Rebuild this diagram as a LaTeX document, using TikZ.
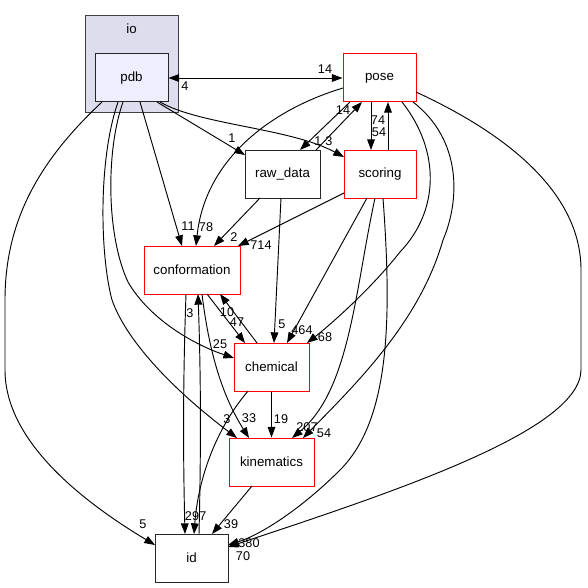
\documentclass[tikz,border=0pt]{standalone}
\usepackage{fontspec}
\setmainfont{Liberation Sans}
\usetikzlibrary{arrows.meta,calc}
\definecolor{clusterfill}{HTML}{DDDDEE}
\definecolor{pdbfill}{HTML}{EEEEFF}
\definecolor{redline}{HTML}{FF0000}
\begin{document}
\begin{tikzpicture}[x=0.75pt,y=-0.75pt,
  box/.style={draw, rectangle, minimum height=36pt, inner sep=0pt, line width=0.75pt, font=\fontsize{10}{12}\selectfont},
  redbox/.style={box, draw=redline},
  blackbox/.style={box, draw=black!85},
  dep/.style={draw=black, line width=0.7pt, -{Triangle[length=8pt,width=5.8pt]}},
  bidep/.style={draw=black, line width=0.7pt, {Triangle[length=8pt,width=5.8pt]}-{Triangle[length=8pt,width=5.8pt]}},
  lbl/.style={font=\fontsize{9.5}{10}\selectfont, inner sep=0pt}]
\useasboundingbox (0,0) rectangle (587,588);
% cluster
\node[draw=black!75, fill=clusterfill, line width=0.75pt, minimum width=69.75pt, minimum height=72.75pt, inner sep=0pt] (io) at (131.5,64.5) {};
\node[font=\fontsize{10}{12}\selectfont, inner sep=0pt] (iolbl) at (131.5,29) {io};
% nodes
\node[blackbox, fill=pdbfill, minimum width=54.75pt] (pdb) at (131.5,78) {pdb};
\node[redbox, minimum width=54.75pt] (pose) at (379.5,78) {pose};
\node[blackbox, minimum width=56.25pt] (raw) at (282.5,174) {raw\_data};
\node[redbox, minimum width=54pt] (scoring) at (380,174) {scoring};
\node[redbox, minimum width=72pt] (conf) at (192,270) {conformation};
\node[redbox, minimum width=56.25pt] (chem) at (271.5,367) {chemical};
\node[redbox, minimum width=63.75pt] (kin) at (271.5,462) {kinematics};
\node[blackbox, minimum width=54.75pt] (id) at (191.5,558) {id};
% edges
\draw[bidep] (pdb.east) -- (pose.west);
\draw[dep] ($(pdb)+(25.5,24)$) -- ($(raw)+(-37.5,-19)$);
\draw[dep] ($(pdb)+(28.5,24)$) .. controls (200,125) and (290,128) .. ($(scoring)+(-36,-17)$);
\draw[dep] ($(pdb)+(8.5,24)$) -- ($(conf)+(-10,-24)$);
\draw[dep] ($(pdb)+(-8.5,24)$) .. controls (106,150) and (106,235) .. (128,282) .. controls (150,320) and (195,345) .. ($(chem)+(-37.5,-9)$);
\draw[dep] ($(pdb)+(-13.5,24)$) .. controls (98,160) and (100,255) .. (112,300) .. controls (128,345) and (180,395) .. ($(kin)+(-34.5,-24)$);
\draw[dep] ($(pdb)+(-29.5,24)$) .. controls (40,160) and (5,220) .. (5,300) -- (5,370) .. controls (5,440) and (80,500) .. ($(id)+(-36.5,-13)$);
\draw[dep] ($(pose)+(-36.5,10)$) .. controls (270,110) and (205,160) .. ($(conf)+(4,-24)$);
\draw[dep] ($(pose)+(-29.5,24)$) -- ($(raw)+(17.5,-24)$);
\draw[dep] ($(raw)+(33.5,-24)$) -- ($(pose)+(-17.5,24)$);
\draw[dep] ($(pose)+(-8.5,24)$) -- ($(scoring)+(-9,-24)$);
\draw[dep] ($(scoring)+(8,-24)$) -- ($(pose)+(8.5,24)$);
\draw[dep] ($(pose)+(22.5,24)$) .. controls (440,150) and (440,210) .. (400,252) .. controls (370,290) and (330,325) .. ($(chem)+(35.5,-24)$);
\draw[dep] ($(pose)+(33.5,24)$) .. controls (462,140) and (460,200) .. (443,240) .. controls (420,320) and (360,380) .. ($(kin)+(31.5,-24)$);
\draw[dep] ($(pose)+(36.5,14)$) .. controls (520,140) and (581,200) .. (581,270) -- (581,370) .. controls (580,430) and (400,490) .. ($(id)+(36.5,-11)$);
\draw[dep] ($(scoring)+(-36,19)$) -- ($(conf)+(46,-24)$);
\draw[dep] ($(scoring)+(-13,24)$) -- ($(chem)+(15.5,-24)$);
\draw[dep] ($(scoring)+(-5,24)$) .. controls (355,290) and (350,390) .. ($(kin)+(20.5,-24)$);
\draw[dep] ($(scoring)+(3,24)$) .. controls (392,320) and (390,420) .. (340,470) .. controls (300,510) and (260,535) .. ($(id)+(36.5,-13)$);
\draw[dep] ($(raw)+(-22.5,24)$) -- ($(conf)+(22,-24)$);
\draw[dep] ($(raw)+(-1.5,24)$) -- ($(chem)+(2.5,-24)$);
\draw[dep] ($(conf)+(15,24)$) -- ($(chem)+(-26.5,-24)$);
\draw[dep] ($(chem)+(-14.5,-24)$) -- ($(conf)+(28,24)$);
\draw[dep] ($(conf)+(10,24)$) .. controls (210,360) and (225,400) .. ($(kin)+(-22.5,-24)$);
\draw[dep] ($(conf)+(-6,24)$) .. controls (183,380) and (183,450) .. ($(id)+(-6.5,-24)$);
\draw[dep] ($(id)+(7.5,-24)$) .. controls (201,450) and (201,380) .. ($(conf)+(6,24)$);
\draw[dep] ($(chem)+(-23.5,24)$) .. controls (215,430) and (198,480) .. ($(id)+(2.5,-24)$);
\draw[dep] (chem.south) -- (kin.north);
\draw[dep] ($(kin)+(-19.5,24)$) -- ($(id)+(20.5,-24)$);
% labels
\node[lbl] (l1) at (325,69) {14};
\node[lbl] (l2) at (185,86) {4};
\node[lbl] (l3) at (232,138) {1};
\node[lbl] (l4) at (318,141) {1};
\node[lbl] (l5) at (329,141) {3};
\node[lbl] (l6) at (343,110) {14};
\node[lbl] (l7) at (378,120) {74};
\node[lbl] (l8) at (379,132) {54};
\node[lbl] (l9) at (188,226) {11};
\node[lbl] (l10) at (206,227) {78};
\node[lbl] (l11) at (234,237) {2};
\node[lbl] (l12) at (261,245) {714};
\node[lbl] (l13) at (190,313) {3};
\node[lbl] (l14) at (227,312) {10};
\node[lbl] (l15) at (237,322) {47};
\node[lbl] (l16) at (282,324) {5};
\node[lbl] (l17) at (302,330) {464};
\node[lbl] (l18) at (325,337) {68};
\node[lbl] (l19) at (220,344) {25};
\node[lbl] (l20) at (227,419) {3};
\node[lbl] (l21) at (249,418) {33};
\node[lbl] (l22) at (281,419) {19};
\node[lbl] (l23) at (307,427) {207};
\node[lbl] (l24) at (324,433) {54};
\node[lbl] (l25) at (192,516) {29};
\node[lbl] (l26) at (203,516) {7};
\node[lbl] (l27) at (231,524) {39};
\node[lbl] (l28) at (143,524) {5};
\node[lbl] (l29) at (249,543) {380};
\node[lbl] (l30) at (243,556) {70};
\end{tikzpicture}
\end{document}
